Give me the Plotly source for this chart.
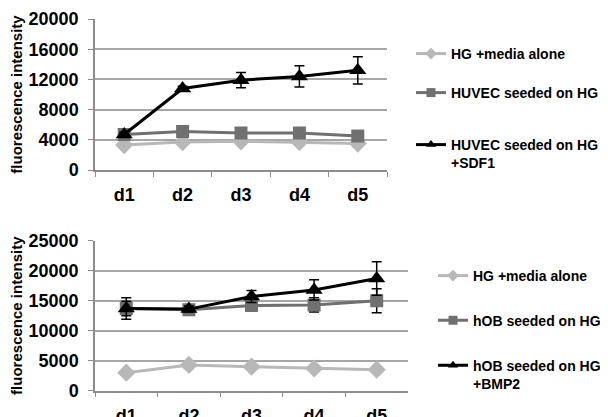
import plotly.graph_objects as go

days = ["d1", "d2", "d3", "d4", "d5"]

# Top panel (HUVEC)
top_hg = [3300, 3700, 3800, 3700, 3500]
top_huvec = [4700, 5100, 4900, 4900, 4500]
top_sdf1 = [4700, 10800, 11900, 12400, 13200]
top_sdf1_err = [300, 300, 1000, 1400, 1800]

# Bottom panel (hOB)
bot_hg = [3000, 4300, 4000, 3700, 3500]
bot_hob = [13700, 13500, 14200, 14300, 15000]
bot_hob_err = [1200, 400, 500, 1200, 2000]
bot_bmp2 = [13700, 13600, 15700, 16800, 18700]
bot_bmp2_err = [1800, 500, 1000, 1700, 2800]

FONT = "Liberation Sans, Arial, sans-serif"
C_LIGHT = "#B8B8B8"
C_MID = "#707070"
C_DARK = "#000000"
GRID = "#A6A6A6"

# page has an 8px body margin; the figure sits at (8, 8)
OFF = 8
W, H = 608 - OFF, 417 - OFF
def fx(px): return (px - OFF) / W
def fy(py): return 1 - (py - OFF) / H

fig = go.Figure()

legend_pos = {}

def add(x, y, name, color, symbol, size, xa, ya, legend, lx, ly, err=None):
    kw = {}
    if err is not None:
        kw["error_y"] = dict(type="data", array=err, visible=True, color="#000000",
                             thickness=1.5, width=5)
    fig.add_trace(go.Scatter(
        x=x, y=y, name=name, mode="lines+markers", showlegend=False,
        line=dict(color=color, width=3),
        marker=dict(color=color, symbol=symbol, size=size),
        xaxis=xa, yaxis=ya, **kw))
    # legend entry with a smaller marker (no data drawn)
    fig.add_trace(go.Scatter(
        x=[None], y=[None], name=name, mode="lines+markers", showlegend=True,
        line=dict(color=color, width=3),
        marker=dict(color=color, symbol=symbol, size=9),
        xaxis=xa, yaxis=ya, legend=legend))
    legend_pos[legend] = (lx, ly)

add(days, top_hg, "HG +media alone", C_LIGHT, "diamond", 14, "x", "y", "legend", 411, 54)
add(days, top_huvec, "HUVEC seeded on HG", C_MID, "square", 13, "x", "y", "legend2", 411, 93)
add(days, top_sdf1, "HUVEC seeded on HG<br>+SDF1", C_DARK, "triangle-up", 15, "x", "y", "legend3", 411, 145, top_sdf1_err)

add(days, bot_hg, "HG +media alone", C_LIGHT, "diamond", 14, "x2", "y2", "legend4", 433, 276)
add(days, bot_hob, "hOB seeded on HG", C_MID, "square", 13, "x2", "y2", "legend5", 433, 320.7, bot_hob_err)
add(days, bot_bmp2, "hOB seeded on HG<br>+BMP2", C_DARK, "triangle-up", 15, "x2", "y2", "legend6", 433, 365.7, bot_bmp2_err)

xcommon = dict(type="category", tickson="boundaries", ticks="outside", ticklen=5,
               tickcolor="#8C8C8C", showline=True, linecolor="#8C8C8C", linewidth=1.5,
               showgrid=False, range=[-0.5, 4.5], ticklabelstandoff=8, automargin=False,
               tickfont=dict(family=FONT, size=18, color="#000", weight="bold"))
ycommon = dict(ticks="outside", ticklen=5, tickcolor="#8C8C8C", showline=True,
               linecolor="#8C8C8C", linewidth=1.5, showgrid=True, gridcolor=GRID,
               gridwidth=1.5, zeroline=False, ticklabelstandoff=6, automargin=False,
               tickformat="d",
               tickfont=dict(family=FONT, size=18, color="#000", weight="bold"),
               title=dict(text="fluorescence intensity", standoff=4,
                          font=dict(family=FONT, size=15, color="#000", weight="bold")))

layout = dict(
    width=W, height=H, margin=dict(l=0, r=0, t=0, b=0, autoexpand=False),
    paper_bgcolor="white", plot_bgcolor="white",
    font=dict(family=FONT, color="#000"),
    xaxis=dict(domain=[fx(95), fx(387)], anchor="y", **xcommon),
    yaxis=dict(domain=[fy(170), fy(19)], anchor="x", range=[0, 20000],
               tickvals=[0, 4000, 8000, 12000, 16000, 20000], **ycommon),
    xaxis2=dict(domain=[fx(95), fx(408)], anchor="y2", **xcommon),
    yaxis2=dict(domain=[fy(390.7), fy(240.7)], anchor="x2", range=[0, 25000],
                tickvals=[0, 5000, 10000, 15000, 20000, 25000], **ycommon),
    showlegend=True,
)
for key, (lx, ly) in legend_pos.items():
    layout[key] = dict(x=fx(lx), y=fy(ly - 16), xanchor="left", yanchor="top",
                       valign="top", bgcolor="rgba(0,0,0,0)",
                       font=dict(family=FONT, size=14, color="#000", weight="bold"))
fig.update_layout(**layout)

fig.write_html("out.html")
